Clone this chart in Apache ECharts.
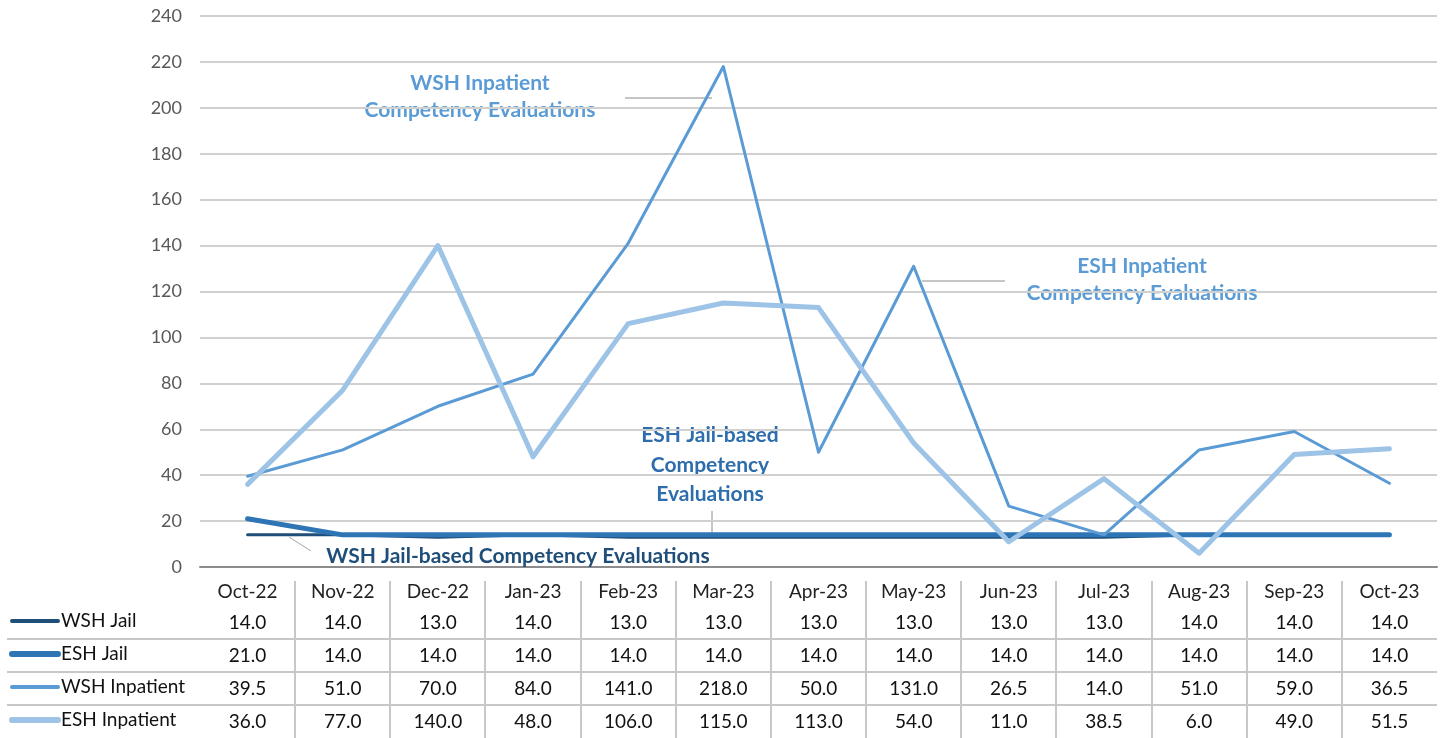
<!DOCTYPE html>
<html>
<head>
<meta charset="utf-8">
<script src="https://cdn.jsdelivr.net/npm/echarts@6/dist/echarts.min.js"></script>
<style>
html,body{margin:0;padding:0;background:#fff;}
#chart{width:1446px;height:738px;}
</style>
</head>
<body>
<div id="chart"></div>
<script>
const categories = ['Oct-22','Nov-22','Dec-22','Jan-23','Feb-23','Mar-23','Apr-23','May-23','Jun-23','Jul-23','Aug-23','Sep-23','Oct-23'];
const seriesNames = ['WSH Jail','ESH Jail','WSH Inpatient','ESH Inpatient'];
const wshJail = [14.0,14.0,13.0,14.0,13.0,13.0,13.0,13.0,13.0,13.0,14.0,14.0,14.0];
const eshJail = [21.0,14.0,14.0,14.0,14.0,14.0,14.0,14.0,14.0,14.0,14.0,14.0,14.0];
const wshInpatient = [39.5,51.0,70.0,84.0,141.0,218.0,50.0,131.0,26.5,14.0,51.0,59.0,36.5];
const eshInpatient = [36.0,77.0,140.0,48.0,106.0,115.0,113.0,54.0,11.0,38.5,6.0,49.0,51.5];
const yTicks = [0,20,40,60,80,100,120,140,160,180,200,220,240];

const allValues = [wshJail, eshJail, wshInpatient, eshInpatient];
const colors = ['#1F4E79','#2E75B6','#5B9BD5','#9DC3E6'];
const widths = [3,5,3,5];
const FONT = 'Lato, "Liberation Sans", sans-serif';

const chart = echarts.init(document.getElementById('chart'));

const rowMargins = [46, 79, 112, 145];
const xAxes = [{
  type:'category', data:categories, boundaryGap:true, gridIndex:0,
  axisLine:{show:true, lineStyle:{color:'#8C8C8C', width:2}},
  axisTick:{show:false},
  axisLabel:{color:'#222', fontSize:19, fontFamily:FONT, margin:15, interval:0}
}];
allValues.forEach((vals, k) => {
  xAxes.push({
    type:'category', data:categories, boundaryGap:true, gridIndex:0, position:'bottom',
    axisLine:{show:false}, axisTick:{show:false}, splitLine:{show:false},
    axisLabel:{color:'#111', fontSize:19, fontFamily:FONT, margin:rowMargins[k], interval:0,
      formatter:(v, i) => vals[i].toFixed(1)}
  });
});

const series = allValues.map((vals, k) => ({
  name: seriesNames[k], type:'line', data: vals, xAxisIndex:0, yAxisIndex:0,
  symbol:'none', smooth:false,
  lineStyle:{color:colors[k], width:widths[k], cap:'round', join:'round'},
  itemStyle:{color:colors[k]},
  z: 2 + k
}));

const annotColor1 = '#5B9BD5';
const AF = 'bold 21px ' + FONT;
const graphics = [
  {type:'text', x:480, y:83, style:{text:'WSH Inpatient', fill:annotColor1, font:AF, align:'center', verticalAlign:'middle'}},
  {type:'text', x:480, y:110, style:{text:'Competency Evaluations', fill:annotColor1, font:AF, align:'center', verticalAlign:'middle'}},
  {type:'line', shape:{x1:625,y1:98,x2:712,y2:98}, style:{stroke:'#8C8C8C', lineWidth:1}},
  {type:'text', x:1142, y:266, style:{text:'ESH Inpatient', fill:annotColor1, font:AF, align:'center', verticalAlign:'middle'}},
  {type:'text', x:1142, y:293, style:{text:'Competency Evaluations', fill:annotColor1, font:AF, align:'center', verticalAlign:'middle'}},
  {type:'line', shape:{x1:922,y1:281,x2:1005,y2:281}, style:{stroke:'#8C8C8C', lineWidth:1}},
  {type:'text', x:710, y:435, style:{text:'ESH Jail-based', fill:'#2E6DAD', font:AF, align:'center', verticalAlign:'middle'}},
  {type:'text', x:710, y:465, style:{text:'Competency', fill:'#2E6DAD', font:AF, align:'center', verticalAlign:'middle'}},
  {type:'text', x:710, y:494, style:{text:'Evaluations', fill:'#2E6DAD', font:AF, align:'center', verticalAlign:'middle'}},
  {type:'line', shape:{x1:712,y1:511,x2:712,y2:533}, style:{stroke:'#8C8C8C', lineWidth:1}},
  {type:'text', x:518, y:556, z:10, style:{text:'WSH Jail-based Competency Evaluations', fill:'#1F4E79', font:AF, align:'center', verticalAlign:'middle'}},
  {type:'line', shape:{x1:289,y1:537,x2:311,y2:551}, style:{stroke:'#A6A6A6', lineWidth:1}}
];

chart.setOption({
  backgroundColor:'#fff',
  animation:false,
  grid:{left:200, right:9, top:16, bottom:171, containLabel:false},
  xAxis: xAxes,
  yAxis:{
    type:'value', min:0, max:240, interval:20,
    axisLine:{show:false}, axisTick:{show:false},
    axisLabel:{color:'#595959', fontSize:18, fontFamily:FONT, margin:18,
      formatter:(v) => yTicks.includes(v) ? String(v) : ''},
    splitLine:{show:true, lineStyle:{color:'#D0D0D0', width:2}}
  },
  series: series,
  graphic: graphics
});

// table borders, placed from the category axis scale
const tableLines = [];
const step = chart.convertToPixel({xAxisIndex:0}, 1) - chart.convertToPixel({xAxisIndex:0}, 0);
for (let i = 0; i < categories.length - 1; i++) {
  const xb = Math.round(chart.convertToPixel({xAxisIndex:0}, i) + step / 2);
  tableLines.push({type:'line', shape:{x1:xb, y1:581, x2:xb, y2:738}, style:{stroke:'#C8C8C8', lineWidth:2}});
}
const rightEdge = chart.convertToPixel({xAxisIndex:0}, categories.length - 1) + step / 2;
[639, 672, 705].forEach(y => {
  tableLines.push({type:'line', shape:{x1:7, y1:y, x2:rightEdge, y2:y}, style:{stroke:'#C8C8C8', lineWidth:2}});
});
// legend keys and row labels of the data table
const legendItems = [];
seriesNames.forEach((n, k) => {
  const y = 621 + k * 33;
  legendItems.push({type:'line', z:20, shape:{x1:12, y1:y, x2:58, y2:y},
    style:{stroke:colors[k], lineWidth:widths[k] + 1, lineCap:'round'}});
  legendItems.push({type:'text', z:20, x:61, y:y, style:{text:n, fill:'#111', font:'19px ' + FONT, align:'left', verticalAlign:'middle'}});
});
chart.setOption({graphic: graphics.concat(tableLines, legendItems)});
</script>
</body>
</html>
